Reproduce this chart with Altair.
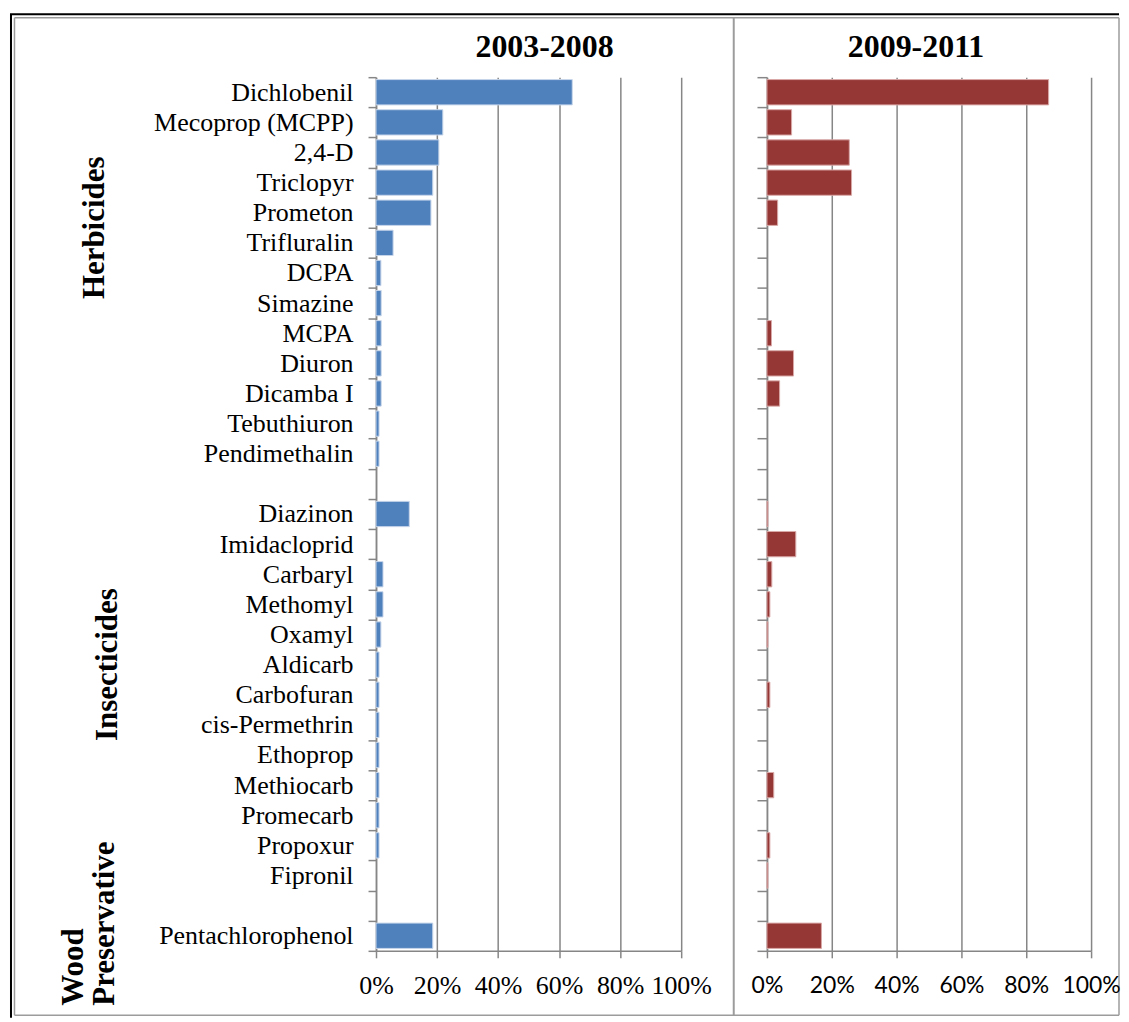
import altair as alt
import pandas as pd

# ---------------- data ----------------
herbicides = ["Dichlobenil", "Mecoprop (MCPP)", "2,4-D", "Triclopyr", "Prometon",
              "Trifluralin", "DCPA", "Simazine", "MCPA", "Diuron", "Dicamba I",
              "Tebuthiuron", "Pendimethalin"]
insecticides = ["Diazinon", "Imidacloprid", "Carbaryl", "Methomyl", "Oxamyl", "Aldicarb",
                "Carbofuran", "cis-Permethrin", "Ethoprop", "Methiocarb", "Promecarb",
                "Propoxur", "Fipronil"]
wood = ["Pentachlorophenol"]

herb_2003_2008 = [64.3, 21.9, 20.6, 18.6, 18.0, 5.6, 1.6, 1.7, 1.7, 1.7, 1.7, 1.0, 1.0]
ins_2003_2008 = [10.9, 0.0, 2.3, 2.3, 1.6, 1.0, 1.0, 1.0, 1.0, 1.0, 1.0, 1.0, 0.0]
wood_2003_2008 = [18.6]

herb_2009_2011 = [86.9, 7.6, 25.4, 26.1, 3.3, 0.0, 0.0, 0.0, 1.4, 8.2, 3.9, 0.0, 0.0]
ins_2009_2011 = [0.3, 8.9, 1.5, 0.9, 0.3, 0.0, 0.9, 0.0, 0.0, 2.1, 0.0, 0.9, 0.3]
wood_2009_2011 = [16.8]

panel_titles = ["2003-2008", "2009-2011"]
x_ticks = [0, 20, 40, 60, 80, 100]
gap1, gap2 = " ", "  "
rows = herbicides + [gap1] + insecticides + [gap2] + wood

compounds = herbicides + insecticides + wood
df_a = pd.DataFrame({"compound": compounds,
                     "pct": herb_2003_2008 + ins_2003_2008 + wood_2003_2008})
df_b = pd.DataFrame({"compound": compounds,
                     "pct": herb_2009_2011 + ins_2009_2011 + wood_2009_2011})
# zero values draw no bar in the original
df_a = df_a[df_a["pct"] > 0]
df_b = df_b[df_b["pct"] > 0]

# ---------------- style ----------------
BLUE = "#4F81BD"
RED = "#953735"
GRAY = "#868686"
FRAME_GRAY = "#9c9c9c"
SERIF = "Liberation Serif"
SANS = "Lato"

PLOT_H = 876
LEFT_W = 306
RIGHT_W = 325
OX, OY = 376, 76  # page position of the left plot area (used for frame lines)

y_scale = alt.Scale(domain=rows, paddingInner=0, paddingOuter=0)
x_scale = alt.Scale(domain=[0, 100], nice=False)


def x_axis(font, size, pad):
    return alt.Axis(values=x_ticks, labelExpr="datum.value + '%'", title=None,
                    grid=True, gridColor=GRAY, gridWidth=1.5,
                    domainColor=GRAY, domainWidth=1.5,
                    tickColor=GRAY, tickWidth=1.5, tickSize=7,
                    labelFont=font, labelFontSize=size, labelColor="black",
                    labelPadding=pad, labelFlush=False, labelOverlap=False)


def y_axis(show_labels, tick):
    return alt.Axis(title=None, tickBand="extent", grid=False,
                    domainColor=GRAY, domainWidth=1.5,
                    tickColor=GRAY, tickWidth=1.5, tickSize=tick,
                    labels=show_labels, labelFont=SERIF, labelFontSize=26,
                    labelColor="black", labelPadding=15, labelLimit=400)


LEFT_Y_AXIS = y_axis(True, 8)


def bars(df, color, stroke, font, size, pad, yaxis):
    return alt.Chart(df).mark_bar(
        color=color, height=alt.RelativeBandSize(0.84),
        stroke=stroke, strokeWidth=1
    ).encode(
        x=alt.X("pct:Q", scale=x_scale, axis=x_axis(font, size, pad)),
        y=alt.Y("compound:N", scale=y_scale, sort=rows, axis=yaxis),
    )


def panel_title(text, x_px):
    src = pd.DataFrame({"title": [text]})
    return alt.Chart(src).mark_text(
        font=SERIF, fontSize=32, fontWeight="bold", color="black",
        align="center", baseline="alphabetic"
    ).encode(x=alt.value(x_px), y=alt.value(-20), text="title:N")


# ---------------- frame (decorative border like the original figure) ----------------
frame_src = pd.DataFrame({"k": [0]})


def hline(y, x1, x2, color, w):
    return alt.Chart(frame_src).mark_rule(color=color, strokeWidth=w).encode(
        x=alt.value(x1 - OX), x2=alt.value(x2 - OX), y=alt.value(y - OY))


def vline(x, y1, y2, color, w):
    return alt.Chart(frame_src).mark_rule(color=color, strokeWidth=w).encode(
        x=alt.value(x - OX), y=alt.value(y1 - OY), y2=alt.value(y2 - OY))


frame = [
    vline(10, 13, 1019, "black", 2),
    hline(13, 9, 1121, "black", 2),
    vline(13.5, 16.5, 1016.5, FRAME_GRAY, 1.5),
    hline(16.5, 13.5, 1121, FRAME_GRAY, 1.5),
    hline(1016.5, 13.5, 1121, FRAME_GRAY, 1.5),
    vline(734.7, 16.5, 1016.5, FRAME_GRAY, 2),
    vline(1121, 16.5, 1016.5, FRAME_GRAY, 1.5),
]


# ---------------- group labels ----------------
def group_label(text, anchor_row, band_pos, x_page, dx, align):
    src = pd.DataFrame({"label": [text], "row": [anchor_row]})
    return alt.Chart(src).mark_text(
        angle=270, font=SERIF, fontSize=31, fontWeight="bold", color="black",
        align=align, baseline="alphabetic", dx=dx
    ).encode(
        x=alt.value(x_page - OX),
        y=alt.Y("row:N", scale=y_scale, sort=rows, bandPosition=band_pos, axis=LEFT_Y_AXIS),
        text="label:N",
    )


groups = [
    group_label("Herbicides", "Trifluralin", 0, 103, 0, "center"),
    group_label("Insecticides", "Aldicarb", 0.5, 116, 0, "center"),
    group_label("Wood", "Pentachlorophenol", 1, 82, -55, "left"),
    group_label("Preservative", "Pentachlorophenol", 1, 113, -55, "left"),
]

left = alt.layer(
    *frame, *groups,
    bars(df_a, BLUE, "#c8d6ea", SERIF, 26, 15, LEFT_Y_AXIS),
    panel_title(panel_titles[0], LEFT_W / 2 + 16),
).properties(width=LEFT_W, height=PLOT_H)

right = alt.layer(
    bars(df_b, RED, "#d9a9a8", SANS, 23, 17, y_axis(False, 10)),
    panel_title(panel_titles[1], RIGHT_W / 2 - 13),
).properties(width=RIGHT_W, height=PLOT_H)

chart = alt.hconcat(left, right, spacing=86, bounds="flush").properties(
    padding={"left": 0, "top": 3, "right": 0, "bottom": 0},
    background="white",
).configure_view(stroke="transparent")

chart.save("out.html", embed_options={"renderer": "svg", "actions": False})
